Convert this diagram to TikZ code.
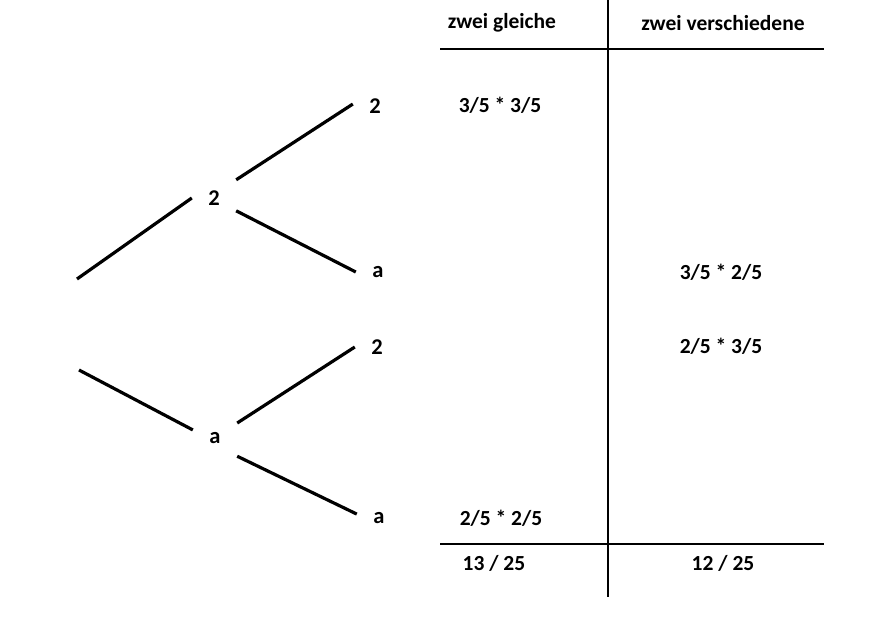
\documentclass[tikz,border=0pt]{standalone}
\usepackage{fontspec}
\setmainfont{Carlito}
\begin{document}
\begin{tikzpicture}[x=1pt,y=-1pt,
  ln/.style={line width=3.2pt},
  tbl/.style={line width=2pt},
  tlbl/.style={font=\bfseries\fontsize{22.5}{26}\selectfont, inner sep=0pt, minimum width=44pt, minimum height=36pt},
  celltxt/.style={font=\bfseries\fontsize{21.5}{25}\selectfont, inner sep=0pt}]
\useasboundingbox (0,0) rectangle (880,635);
% table
\coordinate (vtop) at (608,0);
\coordinate (vbot) at (608,597);
\coordinate (h1l) at (440,49);
\coordinate (h1r) at (824,49);
\coordinate (h2l) at (440,544);
\coordinate (h2r) at (824,544);
\draw[tbl] (vtop) -- (vbot);
\draw[tbl] (h1l) -- (h1r);
\draw[tbl] (h2l) -- (h2r);
\node[celltxt] (hg) at (502,23) {zwei gleiche};
\node[celltxt] (hv) at (723,23) {zwei verschiedene};
\node[celltxt] (c1) at (500,105) {3/5 * 3/5};
\node[celltxt] (c2) at (721,272) {3/5 * 2/5};
\node[celltxt] (c3) at (721,346) {2/5 * 3/5};
\node[celltxt] (c4) at (501,518) {2/5 * 2/5};
\node[celltxt] (s1) at (494,563) {13 / 25};
\node[celltxt] (s2) at (723,563) {12 / 25};
% tree
\coordinate (r1) at (77,279);
\coordinate (r2) at (79,370);
\node[tlbl] (m1) at (214,198) {2};
\node[tlbl] (ma) at (215,438) {a};
\node[tlbl] (t1) at (375,106) {2};
\node[tlbl] (a1) at (378,272) {a};
\node[tlbl] (t2) at (377,347) {2};
\node[tlbl] (a2) at (379,518) {a};
\draw[ln] (r1) -- (m1.west);
\draw[ln] (m1.north east) -- (t1.175);
\draw[ln] (m1.-30) -- (a1.west);
\draw[ln] (r2) -- (ma.160);
\draw[ln] (ma.34) -- (t2.west);
\draw[ln] (ma.south east) -- (a2.170);
\end{tikzpicture}
\end{document}
